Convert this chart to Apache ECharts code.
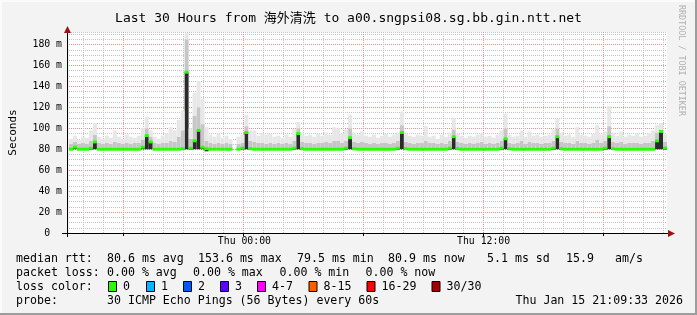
<!DOCTYPE html>
<html>
<head>
<meta charset="utf-8">
<script src="https://cdn.jsdelivr.net/npm/echarts@6/dist/echarts.min.js"></script>
<style>
html,body{margin:0;padding:0;background:#f3f3f3;}
#chart{width:697px;height:315px;}
</style>
</head>
<body>
<div id="chart"></div>
<script>
// ---- data (one column = 12 minutes, 150 columns = 30 hours, start Wed 15:12) ----
const startMinute = 15 * 60 + 12;   // Wed 15:12
const stepMinutes = 12;
const xTickLabels = ['Thu 00:00', 'Thu 12:00'];
const hourLines = ['Wed 16:00','Wed 17:00','Wed 18:00','Wed 19:00','Wed 20:00','Wed 21:00','Wed 22:00','Wed 23:00',
  'Thu 00:00','Thu 01:00','Thu 02:00','Thu 03:00','Thu 04:00','Thu 05:00','Thu 06:00','Thu 07:00','Thu 08:00',
  'Thu 09:00','Thu 10:00','Thu 11:00','Thu 12:00','Thu 13:00','Thu 14:00','Thu 15:00','Thu 16:00','Thu 17:00',
  'Thu 18:00','Thu 19:00','Thu 20:00','Thu 21:00'];
const majorLines = ['Wed 18:00','Thu 00:00','Thu 06:00','Thu 12:00','Thu 18:00'];
const yTickValues = [0, 20, 40, 60, 80, 100, 120, 140, 160, 180];
const yMax = 192;

// median rtt (ms)
const median = [
80,82,80,80,80,81,87,80,80,80,
80,80,80,80,80,80,80,80,82,93,
87,80,80,80,80,80,80,80,80.5,153.6,
81,88,98,82,80.5,80,80,80,80,80,
80,null,80,81,96,80.5,80,80,80,80,
80,80,80,80,80,80,81,95,80.5,80,
80,80,80,80,80,80,80,80,80,81,
91,80.5,80,80,80,80,80,80,80,80,
80,80,81,96,80.5,80,80,80,80,80,
80,80,80,80,80,81,92,80.5,80,80,
80,80,80,80,80,80,80,80,81,90,
80.5,80,80,80,80,80,80,80,80,80,
80,81,92,80.5,80,80,80,80,80,80,
80,80,80,80,81,92,80.5,80,80,80,
80,80,80,80,80,80,80,88,97,81
];
// lowest ping (ms)
const minPing = [
79.5,80,79.5,79.5,79.5,79.5,80,79.5,79.5,79.5,
79.5,79.5,79.5,79.5,79.5,79.5,79.5,79.5,80,80,
80,79.5,79.5,79.5,79.5,79.5,79.5,79.5,79.5,80,
79.5,80,80,80,78,79.5,79.5,79.5,79.5,79.5,
79.5,null,79.5,79.5,80,79.5,79.5,79.5,79.5,79.5,
79.5,79.5,79.5,79.5,79.5,79.5,79.5,80,79.5,79.5,
79.5,79.5,79.5,79.5,79.5,79.5,79.5,79.5,79.5,79.5,
80,79.5,79.5,79.5,79.5,79.5,79.5,79.5,79.5,79.5,
79.5,79.5,79.5,80,79.5,79.5,79.5,79.5,79.5,79.5,
79.5,79.5,79.5,79.5,79.5,79.5,80,79.5,79.5,79.5,
79.5,79.5,79.5,79.5,79.5,79.5,79.5,79.5,79.5,80,
79.5,79.5,79.5,79.5,79.5,79.5,79.5,79.5,79.5,79.5,
79.5,79.5,80,79.5,79.5,79.5,79.5,79.5,79.5,79.5,
79.5,79.5,79.5,79.5,79.5,80,79.5,79.5,79.5,79.5,
79.5,79.5,79.5,79.5,79.5,79.5,79.5,80,80,79.5
];
// upper edge of the dense smoke (ms)
const denseTop = [
85,87,85,86,85,88,94,86,85,86,
85,87,86,85,86,85,86,86,89,100,
92,86,85,86,86,88,87,92,98,185,
90,112,120,104,88,86,85,86,85,86,
85,null,85,86,102,88,87,86,86,85,
86,85,86,85,86,85,88,100,87,86,
86,85,86,86,87,86,88,88,86,88,
100,87,86,87,86,85,86,85,86,86,
85,86,88,103,87,86,85,86,86,88,
86,86,85,86,85,88,99,87,86,85,
86,85,86,87,85,86,85,86,88,100,
86,85,86,88,85,87,86,86,85,86,
86,88,100,87,86,86,85,88,86,86,
85,86,89,86,88,102,87,86,87,85,
86,86,86,85,86,86,88,96,99,87
];
// highest ping (ms)
const maxPing = [
90,93,89,92,91,98,105,92,90,93,
91,98,92,90,94,92,91,93,100,111,
98,92,90,93,95,101,98,108,117,191,
100,134,145,128,101,94,92,95,91,93,
90,null,92,94,113,98,98,93,95,94,
95,92,93,91,94,92,99,106,96,93,
94,92,95,93,96,94,101,100,95,99,
113,96,94,97,93,92,94,91,93,95,
92,94,96,116,95,93,92,94,93,102,
92,93,90,94,92,96,110,95,93,91,
93,92,94,95,92,93,91,94,98,114,
94,92,93,98,92,97,93,94,92,93,
94,99,109,96,93,94,92,101,94,93,
92,95,103,94,97,121,96,93,97,92,
94,93,95,92,93,95,98,103,105,95
];

const legendRows = {
  rtt:  ['80.6 ms avg', '153.6 ms max', '79.5 ms min', '80.9 ms now', '5.1 ms sd', '15.9', 'am/s'],
  loss: ['0.00 % avg', '0.00 % max', '0.00 % min', '0.00 % now']
};
const lossLabels = ['0', '1', '2', '3', '4-7', '8-15', '16-29', '30/30'];
const lossColors = ['#26ff00', '#00b8ff', '#0059ff', '#5e00ff', '#ff00ff', '#ff5e00', '#ff0000', '#a00000'];
const probeText = '30 ICMP Echo Pings (56 Bytes) every 60s';
const stampText = 'Thu Jan 15 21:09:33 2026';
const titleText = 'Last 30 Hours from 海外清洗 to a00.sngpsi08.sg.bb.gin.ntt.net';

// ---- build ----
const categories = median.map((_, i) => {
  const t = startMinute + i * stepMinutes;
  const day = t >= 1440 ? 'Thu' : 'Wed';
  const m = t % 1440;
  const hh = String(Math.floor(m / 60)).padStart(2, '0');
  const mm = String(m % 60).padStart(2, '0');
  return day + ' ' + hh + ':' + mm;
});
const diff = (a, b) => a.map((v, i) => (v == null || b[i] == null) ? null : +(v - b[i]).toFixed(2));
// plot box: one column per 4 px
const PL = 67, PT = 32, PW = 600, PH = 201, COL = PW / median.length;
const colIndex = (label) => categories.indexOf(label);

const MONO = "'DejaVu Sans Mono', 'Noto Sans CJK SC', monospace";
const GRID_GREY = '#c4c4c4';
const GRID_RED = '#ec9090';

function barSeries(stack, data, color, z) {
  return {
    type: 'bar', stack: stack, data: data, silent: true, z: z,
    xAxisIndex: 0, yAxisIndex: 0,
    barWidth: '100%', barGap: '-100%', barCategoryGap: '0%',
    itemStyle: { color: color }, animation: false
  };
}

const series = [
  barSeries('smoke', minPing, 'rgba(0,0,0,0)', 2),
  barSeries('smoke', diff(median, minPing), '#2b2b2b', 2),
  barSeries('smoke', diff(denseTop, median), '#c6c6c6', 2),
  barSeries('smoke', diff(maxPing, denseTop), '#e7e7e7', 2),
  barSeries('med', median.map(m => m == null ? null : m - 1.4), 'rgba(0,0,0,0)', 3),
  barSeries('med', median.map(m => m == null ? null : 2.8), '#26ff00', 3),
  // empty series so the helper grids (grid lines) are laid out
  { type: 'line', xAxisIndex: 1, yAxisIndex: 1, data: [], silent: true },
  { type: 'line', xAxisIndex: 2, yAxisIndex: 2, data: [], silent: true },
  { type: 'line', xAxisIndex: 3, yAxisIndex: 3, data: [], silent: true }
];

// helper grids whose category points fall on the grid-line positions
const hourLeft = PL + colIndex(hourLines[0]) * COL;
const hourWidth = (colIndex(hourLines[hourLines.length - 1]) - colIndex(hourLines[0])) * COL;
const majLeft = PL + colIndex(majorLines[0]) * COL;
const majWidth = (colIndex(majorLines[majorLines.length - 1]) - colIndex(majorLines[0])) * COL;
const yTopVal = yTickValues[yTickValues.length - 1];
const yHelpHeight = PH * yTopVal / yMax;
const yHelpTop = PT + PH - yHelpHeight;

// legend graphics
const L = 16, C1 = 107;
const txt = (x, y, s, align) => ({
  type: 'text', x: x, y: y, silent: true,
  style: { text: s, fill: '#000', font: '11.6px ' + MONO, textAlign: align || 'left', textVerticalAlign: 'middle' }
});
const graphics = [];
graphics.push({ type: 'rect', shape: { x: 0, y: 0, width: 697, height: 2 }, style: { fill: '#fbfbfb' }, silent: true });
graphics.push({ type: 'rect', shape: { x: 0, y: 0, width: 2, height: 315 }, style: { fill: '#fbfbfb' }, silent: true });
graphics.push({ type: 'rect', shape: { x: 695, y: 0, width: 2, height: 315 }, style: { fill: '#9d9d9d' }, silent: true });
graphics.push({ type: 'rect', shape: { x: 0, y: 313, width: 697, height: 2 }, style: { fill: '#9d9d9d' }, silent: true });
graphics.push({ type: 'line', shape: { x1: 62, y1: 233.5, x2: 669, y2: 233.5 }, style: { stroke: '#000', lineWidth: 1 }, silent: true, z: 10 });
graphics.push({ type: 'line', shape: { x1: 67.5, y1: 237, x2: 67.5, y2: 31 }, style: { stroke: '#000', lineWidth: 1 }, silent: true, z: 10 });
graphics.push({ type: 'polygon', shape: { points: [[668, 230], [675, 233.5], [668, 237]] }, style: { fill: '#a01010' }, silent: true, z: 10 });
graphics.push({ type: 'polygon', shape: { points: [[64, 33], [67.5, 26], [71, 33]] }, style: { fill: '#a01010' }, silent: true, z: 10 });
graphics.push({
  type: 'text', x: 685, y: 5, rotation: -Math.PI / 2, silent: true,
  style: { text: 'RRDTOOL / TOBI OETIKER', fill: '#b0b0b0', font: '8.4px ' + MONO, textAlign: 'left', textVerticalAlign: 'top' }
});
const rowY = [259, 273, 287, 301];
graphics.push(txt(L, rowY[0], 'median rtt:'));
const rttX = [107, 198, 297, 388, 487, 566, 615];
legendRows.rtt.forEach((s, i) => graphics.push(txt(rttX[i], rowY[0], s)));
graphics.push(txt(L, rowY[1], 'packet loss:'));
const lossX = [107, 193, 279.5, 365.5];
legendRows.loss.forEach((s, i) => graphics.push(txt(lossX[i], rowY[1], s)));
graphics.push(txt(L, rowY[2], 'loss color:'));
const boxX = [108, 146, 183, 220, 257, 308.5, 366.5, 431.5];
lossLabels.forEach((s, i) => {
  graphics.push({ type: 'rect', shape: { x: boxX[i] + 0.5, y: rowY[2] - 5.5, width: 8, height: 10 },
    style: { fill: lossColors[i], stroke: '#000', lineWidth: 1 }, silent: true });
  graphics.push(txt(boxX[i] + 15, rowY[2], s));
});
graphics.push(txt(L, rowY[3], 'probe:'));
graphics.push(txt(C1, rowY[3], probeText));
graphics.push(txt(683, rowY[3], stampText, 'right'));

const hiddenValue = (gridIndex) => ({ gridIndex: gridIndex, type: 'value', show: false, min: 0, max: 1 });

const chart = echarts.init(document.getElementById('chart'), null, { renderer: 'canvas' });
chart.setOption({
  backgroundColor: '#f3f3f3',
  animation: false,
  title: {
    text: titleText, left: 'center', top: 7,
    textStyle: { fontFamily: MONO, fontSize: 13, fontWeight: 'normal', color: '#000' }
  },
  grid: [
    { left: PL, top: PT, width: PW, height: PH, show: true, backgroundColor: '#ffffff', borderWidth: 0, z: 0 },
    { left: hourLeft, top: PT, width: hourWidth, height: PH, show: false },
    { left: majLeft, top: PT, width: majWidth, height: PH, show: false },
    { left: PL, top: yHelpTop, width: PW, height: yHelpHeight, show: false }
  ],
  xAxis: [
    {
      gridIndex: 0, type: 'category', data: categories, boundaryGap: true, z: 2,
      axisLine: { show: false }, axisTick: { show: false },
      axisLabel: {
        interval: (i, v) => xTickLabels.indexOf(v) >= 0,
        fontFamily: MONO, fontSize: 9.8, color: '#000', margin: 4, padding: [0, 4, 0, 0]
      },
      splitLine: { show: false }
    },
    {
      gridIndex: 1, type: 'category', data: hourLines, boundaryGap: false, z: 1,
      axisLine: { show: false }, axisTick: { show: false }, axisLabel: { show: false },
      splitLine: { show: true, interval: 0, lineStyle: { color: GRID_GREY, type: [1, 1], width: 1 } }
    },
    {
      gridIndex: 2, type: 'category', data: majorLines, boundaryGap: false, z: 1,
      axisLine: { show: false },
      axisTick: { show: true, interval: 0, length: 3, lineStyle: { color: '#000' } },
      axisLabel: { show: false },
      splitLine: { show: true, interval: 0, lineStyle: { color: GRID_RED, type: [1, 1], width: 1 } }
    },
    hiddenValue(3)
  ],
  yAxis: [
    {
      gridIndex: 0, type: 'value', min: 0, max: yMax, interval: 5, z: 0,
      name: 'Seconds', nameLocation: 'middle', nameGap: 50,
      nameTextStyle: { fontFamily: MONO, fontSize: 11, color: '#000' },
      axisLine: { show: false },
      axisTick: { show: false },
      axisLabel: {
        fontFamily: MONO, fontSize: 9.8, color: '#000', margin: 7,
        formatter: (v) => yTickValues.indexOf(v) < 0 ? '' : (v === 0 ? '0\u00a0\u00a0' : v + ' m')
      },
      splitLine: { show: true, lineStyle: { color: GRID_GREY, type: [1, 1], width: 1 } }
    },
    hiddenValue(1),
    hiddenValue(2),
    {
      gridIndex: 3, type: 'category', data: yTickValues.map(String), boundaryGap: false, z: 1,
      axisLine: { show: false }, axisTick: { show: false }, axisLabel: { show: false },
      splitLine: { show: true, interval: 0, lineStyle: { color: GRID_RED, type: [1, 1], width: 1 } }
    }
  ],
  series: series,
  graphic: graphics
});
</script>
</body>
</html>
